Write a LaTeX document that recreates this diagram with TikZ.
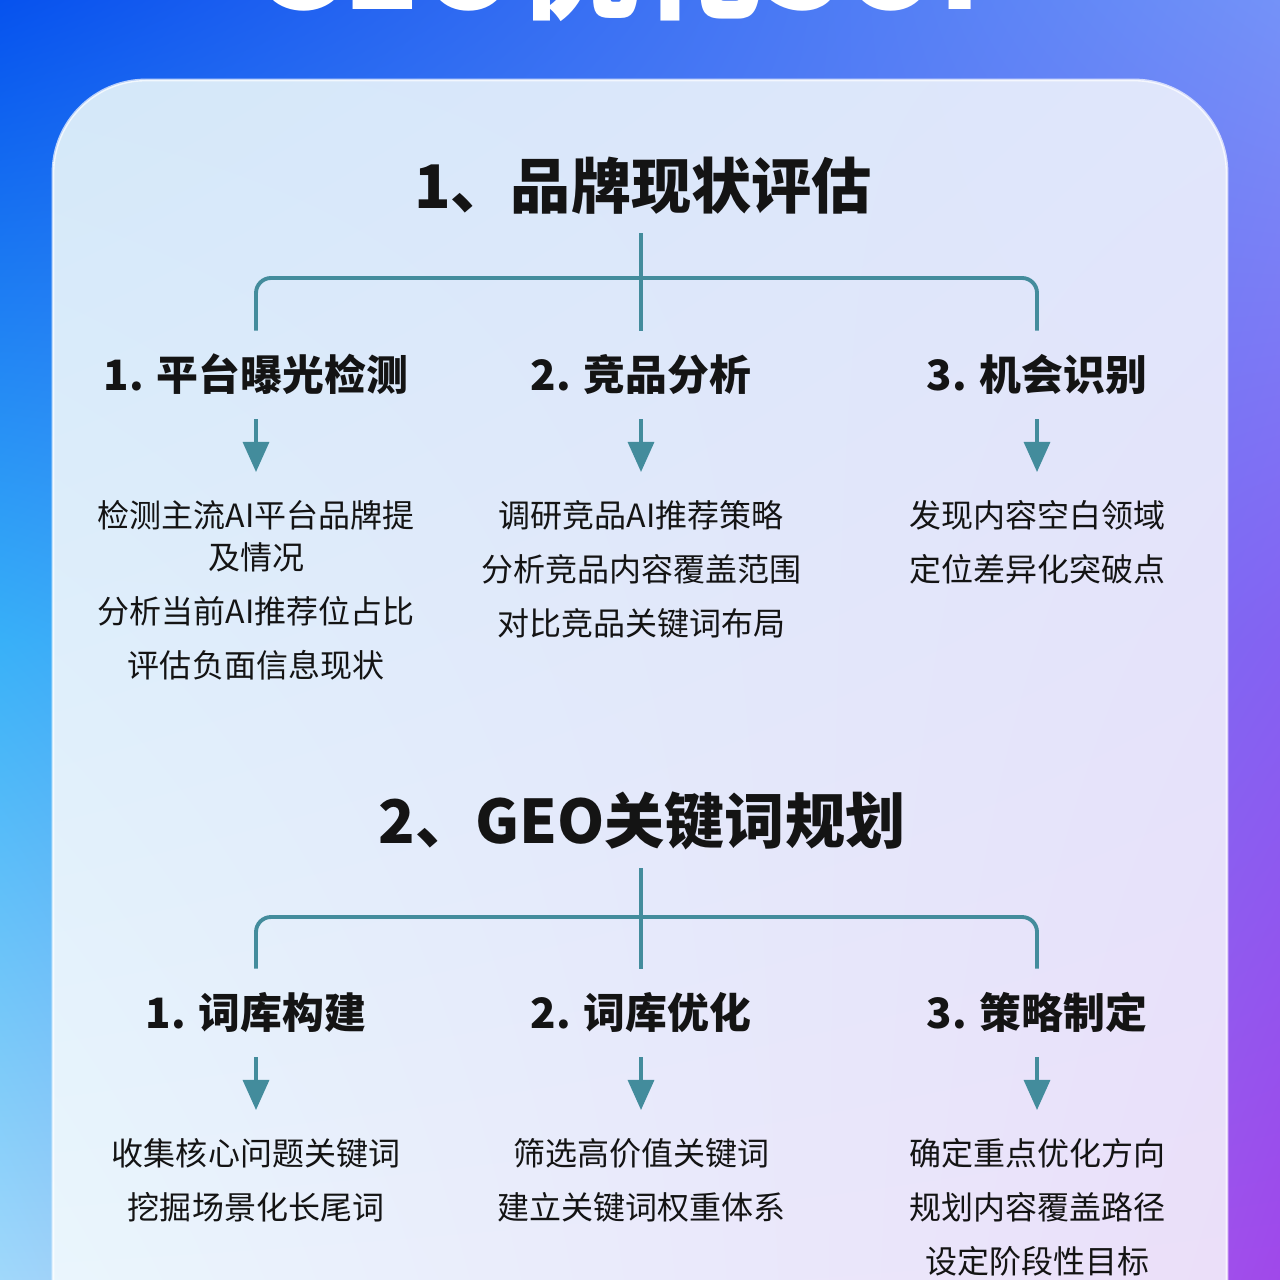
\documentclass[tikz,border=0pt]{standalone}
\usepackage{fontspec}
\newfontfamily\cjk{Noto Sans CJK SC}
\usetikzlibrary{arrows.meta, shadings}

\definecolor{ink}{HTML}{141414}
\definecolor{teal}{HTML}{438C9C}
\definecolor{bgtl}{HTML}{0652EE}
\definecolor{bgtr}{HTML}{7492F8}
\definecolor{bgml}{HTML}{38B0F8}
\definecolor{bgmr}{HTML}{8462F2}
\definecolor{bgbl}{HTML}{A0D8FA}
\definecolor{bgbr}{HTML}{A048EA}
\definecolor{cdtl}{HTML}{D4E8F9}
\definecolor{cdtr}{HTML}{E0E6FB}
\definecolor{cdbl}{HTML}{ECF7FD}
\definecolor{cdbr}{HTML}{ECDEF9}

\tikzset{
  heading/.style={font=\cjk\bfseries\fontsize{17.1pt}{20pt}\selectfont, text=ink,
    inner sep=0pt, outer sep=2mm, text height=5.1mm, text depth=0.5mm},
  subhead/.style={font=\cjk\bfseries\fontsize{11.9pt}{14pt}\selectfont, text=ink,
    inner sep=0pt, outer sep=2.5mm, text height=3.5mm, text depth=0.35mm},
  body/.style={font=\cjk\fontsize{9.1pt}{11.95pt}\selectfont, text=ink, align=center,
    anchor=north, inner sep=0pt, outer sep=2.8mm},
  link/.style={draw=teal, line width=1.1pt},
  arr/.style={draw=teal, line width=0.9pt, -{Triangle[width=2.6mm,length=3mm]}}
}

\begin{document}
\begin{tikzpicture}[x=0.01cm, y=-0.01cm]
  \useasboundingbox (0,0) rectangle (1280,1280);
  \clip (0,0) rectangle (1280,1280);

  % background and card
  \shade[upper left=bgtl, upper right=bgtr, lower left=bgml, lower right=bgmr]
    (0,0) rectangle (1280,641);
  \shade[upper left=bgml, upper right=bgmr, lower left=bgbl, lower right=bgbr]
    (0,640) rectangle (1280,1280);
  \shade[rounded corners=0.93cm, upper left=cdtl, upper right=cdtr, lower left=cdbl, lower right=cdbr]
    (53,80) rectangle (1227,1400);
  \draw[white, opacity=0.7, line width=0.8pt, rounded corners=0.93cm] (53,1400) -- (53,80) -- (1227,80) -- (1227,1400);

  \node[font=\cjk\bfseries\fontsize{35pt}{38pt}\selectfont, text=white, anchor=base, inner sep=0pt] (top) at (638,10) {GEO优化SOP};

  % section 1
  \node[heading] (t1) at (643,185) {1、品牌现状评估};
  \node[subhead] (s11) at (256,375) {1. 平台曝光检测};
  \node[subhead] (s12) at (641,375) {2. 竞品分析};
  \node[subhead] (s13) at (1037,375) {3. 机会识别};
  \coordinate (j1) at (641,278);

  \node[body] (b11) at (256,472) {检测主流AI平台品牌提\\及情况\\[3.4pt]分析当前AI推荐位占比\\[3.4pt]评估负面信息现状};
  \node[body] (b12) at (641,472) {调研竞品AI推荐策略\\[3.4pt]分析竞品内容覆盖范围\\[3.4pt]对比竞品关键词布局};
  \node[body] (b13) at (1037,472) {发现内容空白领域\\[3.4pt]定位差异化突破点};

  \draw[link] (t1.south -| j1) -- (s12.north);
  \draw[link, rounded corners=1.5mm] (s11.north) |- (j1) -| (s13.north);
  \draw[arr] (s11.south) -- (b11.north);
  \draw[arr] (s12.south) -- (b12.north);
  \draw[arr] (s13.south) -- (b13.north);

  % section 2
  \node[heading] (t2) at (642,820) {2、GEO关键词规划};
  \node[subhead] (s21) at (256,1013) {1. 词库构建};
  \node[subhead] (s22) at (641,1013) {2. 词库优化};
  \node[subhead] (s23) at (1037,1013) {3. 策略制定};
  \coordinate (j2) at (641,917);

  \node[body] (b21) at (256,1110) {收集核心问题关键词\\[3.4pt]挖掘场景化长尾词};
  \node[body] (b22) at (641,1110) {筛选高价值关键词\\[3.4pt]建立关键词权重体系};
  \node[body] (b23) at (1037,1110) {确定重点优化方向\\[3.4pt]规划内容覆盖路径\\[3.4pt]设定阶段性目标};

  \draw[link] (t2.south -| j2) -- (s22.north);
  \draw[link, rounded corners=1.5mm] (s21.north) |- (j2) -| (s23.north);
  \draw[arr] (s21.south) -- (b21.north);
  \draw[arr] (s22.south) -- (b22.north);
  \draw[arr] (s23.south) -- (b23.north);
\end{tikzpicture}
\end{document}
